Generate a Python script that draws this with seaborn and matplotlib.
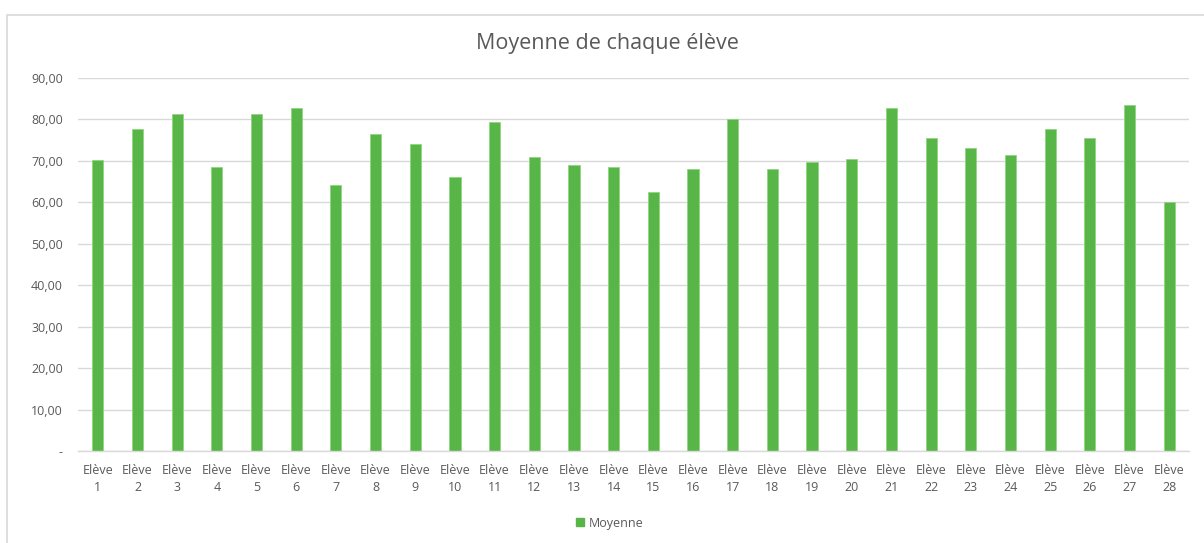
import matplotlib
matplotlib.use("Agg")
import matplotlib.pyplot as plt
import seaborn as sns
import pandas as pd
from matplotlib.lines import Line2D
from matplotlib.patches import Patch

categories = [f"Elève\n{i}" for i in range(1, 29)]
moyenne = [70.2, 77.6, 81.4, 68.5, 81.4, 82.7, 64.3, 76.4, 74.0, 66.0,
           79.3, 71.0, 68.9, 68.5, 62.6, 68.1, 80.1, 68.1, 69.8, 70.5,
           82.7, 75.6, 73.1, 71.4, 77.6, 75.6, 83.5, 60.2]
y_ticks = [0, 10, 20, 30, 40, 50, 60, 70, 80, 90]
y_labels = ["-", "10,00", "20,00", "30,00", "40,00", "50,00", "60,00", "70,00", "80,00", "90,00"]
title = "Moyenne de chaque élève"
series_name = "Moyenne"

sns.set_style("white")
plt.rcParams['font.family'] = ['Open Sans', 'DejaVu Sans']

W, H = 1204, 543
fig = plt.figure(figsize=(W / 100, H / 100), dpi=100)
ax = fig.add_axes([78 / W, 1 - 451 / H, (1189 - 78) / W, (451 - 78) / H])

df = pd.DataFrame({"cat": categories, "val": moyenne})
green = "#58b548"
sns.barplot(data=df, x="cat", y="val", color=green, saturation=1, width=0.28,
            ax=ax, edgecolor="#8fd67f", linewidth=0.6)

ax.set_ylim(0, 90)
ax.set_xlim(-0.5, 27.5)
ax.set_yticks(y_ticks)
ax.set_yticklabels(y_labels)
ax.yaxis.grid(True, color="#d9d9d9", linewidth=1)
ax.set_axisbelow(True)
for s in ["top", "right", "left"]:
    ax.spines[s].set_visible(False)
ax.spines["bottom"].set_color("#d9d9d9")
ax.spines["bottom"].set_linewidth(1)
ax.tick_params(axis="both", length=0, colors="#595959", labelsize=9)
ax.tick_params(axis="y", pad=11)
ax.tick_params(axis="x", pad=9)
for lab in ax.get_yticklabels():
    lab.set_horizontalalignment("right")
for lab in ax.get_xticklabels():
    lab.set_linespacing(1.45)
ax.set_xlabel("")
ax.set_ylabel("")

fig.text(607 / W, 1 - 44 / H, title, ha="center", va="center",
         fontsize=15.5, color="#595959")

handle = Patch(facecolor=green, edgecolor=green)
fig.legend([handle], [series_name], loc="center", bbox_to_anchor=(610 / W, 1 - 523 / H),
           frameon=False, fontsize=9, handlelength=0.6, handleheight=0.6,
           handletextpad=0.4, labelcolor="#595959")

# outer chart frame (left and top edges visible)
fig.add_artist(Line2D([7 / W, 7 / W], [0, 1 - 15 / H], transform=fig.transFigure,
                      color="#d9d9d9", linewidth=1.2))
fig.add_artist(Line2D([7 / W, 1], [1 - 15 / H, 1 - 15 / H], transform=fig.transFigure,
                      color="#d9d9d9", linewidth=1.2))

fig.savefig("out.png", dpi=100)
